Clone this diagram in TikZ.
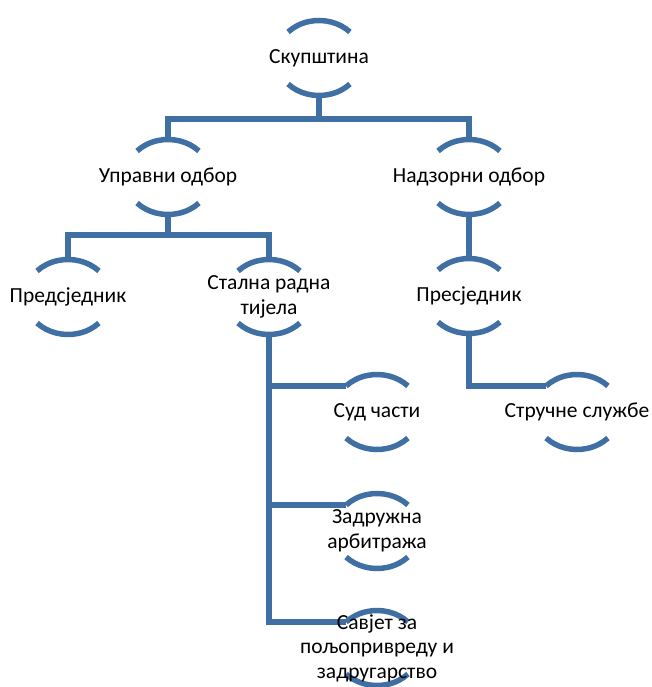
\documentclass[tikz,border=0pt]{standalone}
\usepackage{fontspec}
\setmainfont{Carlito}
\usetikzlibrary{shapes.geometric,calc,backgrounds}
\definecolor{chartblue}{RGB}{64,112,163}
\tikzset{
  ringnode/.style={ellipse, inner sep=0pt, outer sep=0pt, minimum width=86pt, minimum height=75pt},
  txt/.style={font=\fontsize{21.5pt}{24.5pt}\selectfont, align=center, inner sep=0pt},
  arcline/.style={draw=chartblue, line width=5.5pt},
  link/.style={draw=chartblue, line width=5.5pt, line join=miter}
}
\begin{document}
\begin{tikzpicture}[x=1pt,y=1pt]
        \useasboundingbox (0,0) rectangle (651,-687);
        \node[ringnode, label={[txt]center:Скупштина}] (sk) at (319,-58) {};
        \node[ringnode, label={[txt]center:Управни одбор}] (up) at (168,-177) {};
        \node[ringnode, label={[txt]center:Надзорни одбор}] (nad) at (469,-177) {};
        \node[ringnode, label={[txt]center:Предсједник}] (pred) at (68,-297) {};
        \node[ringnode, label={[txt]center:Стална радна\\тијела}] (stal) at (269,-297) {};
        \node[ringnode, label={[txt]center:Пресједник}] (pres) at (469,-296) {};
        \node[ringnode, label={[txt]center:Стручне службе}] (str) at (577,-412) {};
        \node[ringnode, label={[txt]center:Суд части}] (sud) at (377,-412) {};
        \node[ringnode, label={[txt]center:Задружна\\арбитража}] (zad) at (377,-531) {};
        \node[ringnode, label={[txt]center:Савјет за\\пољопривреду и\\задругарство}] (sav) at (377,-648) {};
        % ulazne tacke na lukovima
        \coordinate (str-in) at ($(str)+(136:43 and 37.5)$);
        \coordinate (sud-in) at ($(sud)+(136:43 and 37.5)$);
        \coordinate (zad-in) at ($(zad)+(136:43 and 37.5)$);
        \coordinate (sav-in) at ($(sav)+(136:43 and 37.5)$);
        \begin{pgfonlayer}{background}
        \foreach \n in {sk,up,nad,pred,stal,pres,str,sud,zad,sav} {
            \draw[arcline] ($(\n)+(44:43 and 37.5)$) arc[start angle=44, end angle=136, x radius=43, y radius=37.5];
            \draw[arcline] ($(\n)+(224:43 and 37.5)$) arc[start angle=224, end angle=316, x radius=43, y radius=37.5];
        }
        \draw[link] (sk.south) -- (sk.south |- 0,-119);
        \draw[link] (up.north) |- (sk.south |- 0,-119) -| (nad.north);
        \draw[link] (up.south) -- (up.south |- 0,-235);
        \draw[link] (pred.north) |- (up.south |- 0,-235) -| (stal.north);
        \draw[link] (nad.south) -- (pres.north);
        \draw[link] (pres.south) |- (str-in);
        \draw[link] (stal.south) |- (sav-in);
        \draw[link] (stal.south |- sud-in) -- (sud-in);
        \draw[link] (stal.south |- zad-in) -- (zad-in);
        \end{pgfonlayer}
    \end{tikzpicture}
\end{document}
